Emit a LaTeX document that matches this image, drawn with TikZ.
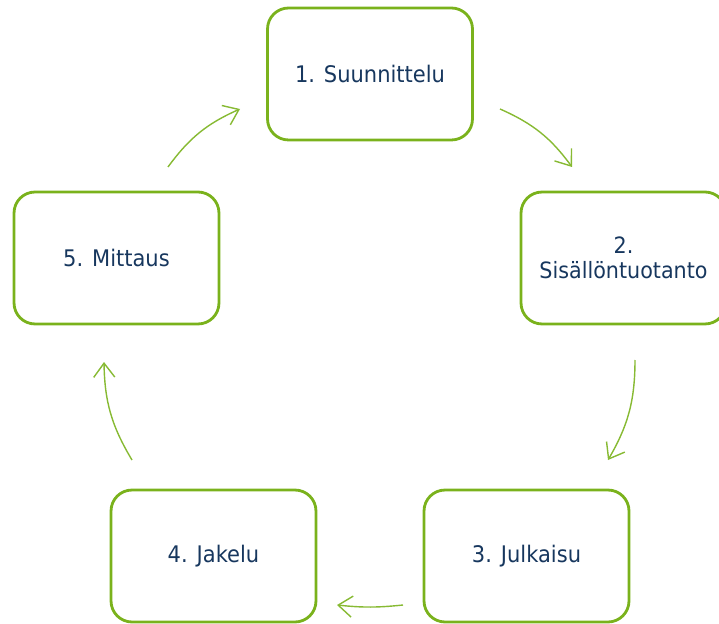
\documentclass[tikz,border=0pt]{standalone}
\usepackage{fontspec}
\setmainfont{DejaVu Sans}[FakeStretch=0.92]
\usetikzlibrary{arrows.meta}
\definecolor{vihrea}{RGB}{122,178,28}
\definecolor{tummansininen}{RGB}{23,55,94}

\begin{document}
\begin{tikzpicture}[
    x=0.02cm, y=-0.02cm,
    vaihe/.style={
        draw=vihrea,
        line width=1.6pt,
        rectangle,
        rounded corners=0.42cm,
        minimum width=4.1cm,
        minimum height=2.64cm,
        align=center,
        text=tummansininen,
        font=\fontsize{13}{15}\selectfont
    },
    nuoli/.style={
        draw=vihrea!90,
        line width=0.8pt,
        -{Straight Barb[length=8pt,width=12pt]}
    }
]
    \useasboundingbox (0,0) rectangle (719,624);

    % Vaiheet
    \node[vaihe] (suunnittelu) at (370, 74) {1. Suunnittelu};
    \node[vaihe, font=\fontsize{12.8}{14.5}\selectfont] (sisalto) at (623.5, 258) {2.\\Sisällöntuotanto};
    \node[vaihe] (julkaisu) at (526.5, 556) {3. Julkaisu};
    \node[vaihe] (jakelu) at (213.5, 556) {4. Jakelu};
    \node[vaihe] (mittaus) at (116.5, 258) {5. Mittaus};

    % Nuolten päät
    \coordinate (n12a) at (500, 109);
    \coordinate (n12b) at (572, 167);
    \coordinate (n23a) at (635, 360);
    \coordinate (n23b) at (608, 460);
    \coordinate (n34a) at (403, 605);
    \coordinate (n34b) at (337, 605);
    \coordinate (n45a) at (132, 460);
    \coordinate (n45b) at (104, 362);
    \coordinate (n51a) at (168, 167);
    \coordinate (n51b) at (240, 109);

    % Nuolet
    \draw[nuoli] (n12a) to[bend left=15] (n12b);
    \draw[nuoli] (n23a) to[bend left=15] (n23b);
    \draw[nuoli] (n34a) to[bend left=6] (n34b);
    \draw[nuoli] (n45a) to[bend left=15] (n45b);
    \draw[nuoli] (n51a) to[bend left=15] (n51b);

\end{tikzpicture}
\end{document}
